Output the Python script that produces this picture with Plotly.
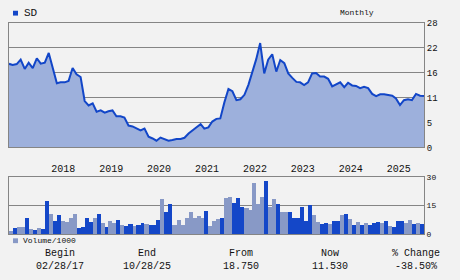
import pandas as pd
import plotly.graph_objects as go

# ---------------- data ----------------
start_date = "2017-02-28"
price = [18.75, 18.5, 18.7, 19.7, 17.6, 19.0, 17.8, 20.0, 18.8, 19.0,
         21.2, 18.0, 14.4, 14.6, 14.6, 14.9, 17.8, 16.4, 15.8, 10.4,
         9.4, 9.9, 8.0, 8.3, 7.8, 8.1, 8.3, 7.0, 7.0, 6.7,
         4.9, 4.7, 4.2, 3.8, 4.2, 2.4, 2.0, 1.5, 2.2, 1.8,
         1.5, 1.65, 1.9, 1.9, 2.15, 3.1, 3.7, 4.5, 5.2, 4.2,
         4.5, 5.8, 6.4, 6.5, 10.1, 13.1, 12.6, 10.6, 10.8, 11.8,
         14.1, 16.7, 19.8, 23.4, 16.6, 19.7, 20.9, 17.0, 19.6, 18.9,
         16.6, 15.6, 14.7, 14.6, 14.0, 14.6, 16.6, 16.7, 15.9, 15.9,
         15.4, 13.7, 14.1, 14.6, 13.5, 14.5, 13.9, 13.8, 13.3, 13.6,
         13.3, 12.0, 11.5, 11.9, 11.9, 11.8, 11.6, 11.0, 9.5, 10.6,
         10.8, 10.6, 12.0, 11.6, 11.53]

volume = [1.8, 3.5, 4.0, 4.0, 8.7, 2.8, 2.3, 3.3, 3.0, 17.6,
          10.7, 7.2, 10.2, 6.8, 6.3, 8.7, 10.7, 3.5, 3.8, 8.7,
          6.3, 8.7, 10.7, 5.8, 3.8, 7.2, 5.8, 7.7, 4.8, 4.3,
          5.3, 4.3, 4.8, 5.8, 5.3, 4.8, 4.8, 7.7, 18.6, 11.7,
          15.7, 4.8, 7.7, 4.8, 8.7, 11.7, 8.7, 9.7, 8.7, 12.2,
          4.3, 6.8, 8.2, 8.7, 19.1, 19.6, 16.6, 19.1, 14.2, 13.7,
          12.7, 27.0, 15.7, 19.6, 28.0, 14.2, 18.6, 16.1, 11.7, 11.7,
          11.7, 8.7, 8.7, 14.2, 7.2, 15.2, 10.2, 6.3, 5.3, 5.8,
          5.3, 7.2, 7.2, 10.2, 10.7, 8.2, 4.8, 6.3, 4.8, 5.8,
          4.8, 5.8, 6.3, 5.8, 6.8, 4.3, 3.8, 7.2, 6.8, 5.8,
          7.7, 5.3, 5.8, 5.3]

vol_up = [0, 1, 0, 0, 1, 0, 1, 0, 1, 1,
          0, 1, 1, 0, 0, 0, 0, 1, 1, 1,
          1, 0, 1, 0, 1, 0, 0, 1, 0, 1,
          1, 0, 1, 1, 0, 1, 1, 1, 0, 1,
          1, 0, 0, 0, 0, 0, 0, 0, 0, 1,
          0, 0, 0, 1, 0, 0, 1, 1, 1, 0,
          0, 0, 0, 0, 1, 0, 0, 1, 0, 0,
          1, 1, 1, 1, 1, 1, 0, 0, 1, 1,
          0, 1, 1, 0, 1, 0, 1, 0, 1, 0,
          1, 1, 1, 0, 1, 0, 1, 1, 1, 0,
          0, 1, 0, 1]

year_labels = ["2018", "2019", "2020", "2021", "2022", "2023", "2024", "2025"]
price_ticks = [0, 5.6, 11.2, 16.8, 22.4, 28]
price_tick_text = ["0", "5", "11", "16", "22", "28"]
vol_ticks = [0, 15, 30]
vol_tick_text = ["0", "15", "30"]
summary_labels = ["Begin", "End", "From", "Now", "% Change"]
summary_values = ["02/28/17", "10/28/25", "18.750", "11.530", "-38.50%"]
symbol = "SD"

# ---------------- styling ----------------
W, H = 460, 280
FONT = "Liberation Mono"
BG = "#f2f2f2"
GRID = "#858585"
LINE = "#1246c8"
FILL = "#9db0dc"
UP = "#1447c8"
DOWN = "#8899c6"
TXT = "#111111"


def px(x):
    return x / W


def py(y):
    return 1 - y / H


base = pd.Timestamp(start_date)
dates = [base + pd.DateOffset(months=k) for k in range(len(price))]
bar_x = dates[:-1]
bar_w = [(dates[i + 1] - dates[i]).total_seconds() * 1000 for i in range(len(volume))]
bar_c = [UP if u else DOWN for u in vol_up]
year_ticks = [pd.Timestamp(f"{y}-01-01") for y in year_labels]

fig = go.Figure()
fig.add_trace(go.Scatter(x=dates, y=price, mode="lines", fill="tozeroy",
                         fillcolor=FILL, line=dict(color=LINE, width=2),
                         xaxis="x", yaxis="y", hoverinfo="skip"))
fig.add_trace(go.Bar(x=bar_x, y=volume, width=bar_w, offset=0,
                     marker=dict(color=bar_c, line=dict(width=0)),
                     xaxis="x2", yaxis="y2", hoverinfo="skip"))

xr = [dates[0], dates[-1]]
axis_common = dict(showline=True, mirror=True, linecolor=GRID, linewidth=1,
                   zeroline=False, ticks="")
fig.update_layout(
    width=W, height=H, margin=dict(l=0, r=0, t=0, b=0),
    paper_bgcolor=BG, plot_bgcolor=BG, showlegend=False, bargap=0,
    font=dict(family=FONT, color=TXT),
    xaxis=dict(domain=[px(9), px(424)], range=xr, anchor="y", type="date",
               showticklabels=False, showgrid=False, **axis_common),
    yaxis=dict(domain=[py(148.7), py(19.3)], range=[0, 28], side="right",
               tickvals=price_ticks, ticktext=price_tick_text,
               gridcolor=GRID, gridwidth=1, tickfont=dict(size=9),
               anchor="x", **axis_common),
    xaxis2=dict(domain=[px(9), px(424)], range=xr, anchor="y2", type="date",
                side="top", tickvals=year_ticks, ticktext=year_labels,
                ticklabelshift=14, showgrid=False, tickfont=dict(size=10),
                **axis_common),
    yaxis2=dict(domain=[py(238.7), py(179.3)], range=[0, 30], side="right",
                tickvals=vol_ticks, ticktext=vol_tick_text,
                gridcolor=GRID, gridwidth=1, tickfont=dict(size=8),
                anchor="x2", **axis_common),
)

shapes = [
    dict(type="rect", xref="paper", yref="paper", x0=px(13), x1=px(18),
         y0=py(12), y1=py(7), fillcolor=UP, line=dict(width=0)),
    dict(type="rect", xref="paper", yref="paper", x0=px(13), x1=px(18),
         y0=py(248), y1=py(243), fillcolor=DOWN, line=dict(width=0)),
]
fig.update_layout(shapes=shapes)

ann = [
    dict(text=symbol, x=px(22), y=py(9.5), xanchor="left", yanchor="middle",
         font=dict(size=11)),
    dict(text="Monthly", x=px(357), y=py(9), xanchor="center", yanchor="middle",
         font=dict(size=8)),
    dict(text="Volume/1000", x=px(21), y=py(245.5), xanchor="left", yanchor="middle",
         font=dict(size=8)),
]
centers = [60, 147, 241, 330, 416]
for c, lab, val in zip(centers, summary_labels, summary_values):
    ann.append(dict(text=lab, x=px(c), y=py(259), xanchor="center", yanchor="middle",
                    font=dict(size=10)))
    ann.append(dict(text=val, x=px(c), y=py(272), xanchor="center", yanchor="middle",
                    font=dict(size=10)))
for a in ann:
    a.update(xref="paper", yref="paper", showarrow=False)
fig.update_layout(annotations=ann)

fig.write_html("out.html")
